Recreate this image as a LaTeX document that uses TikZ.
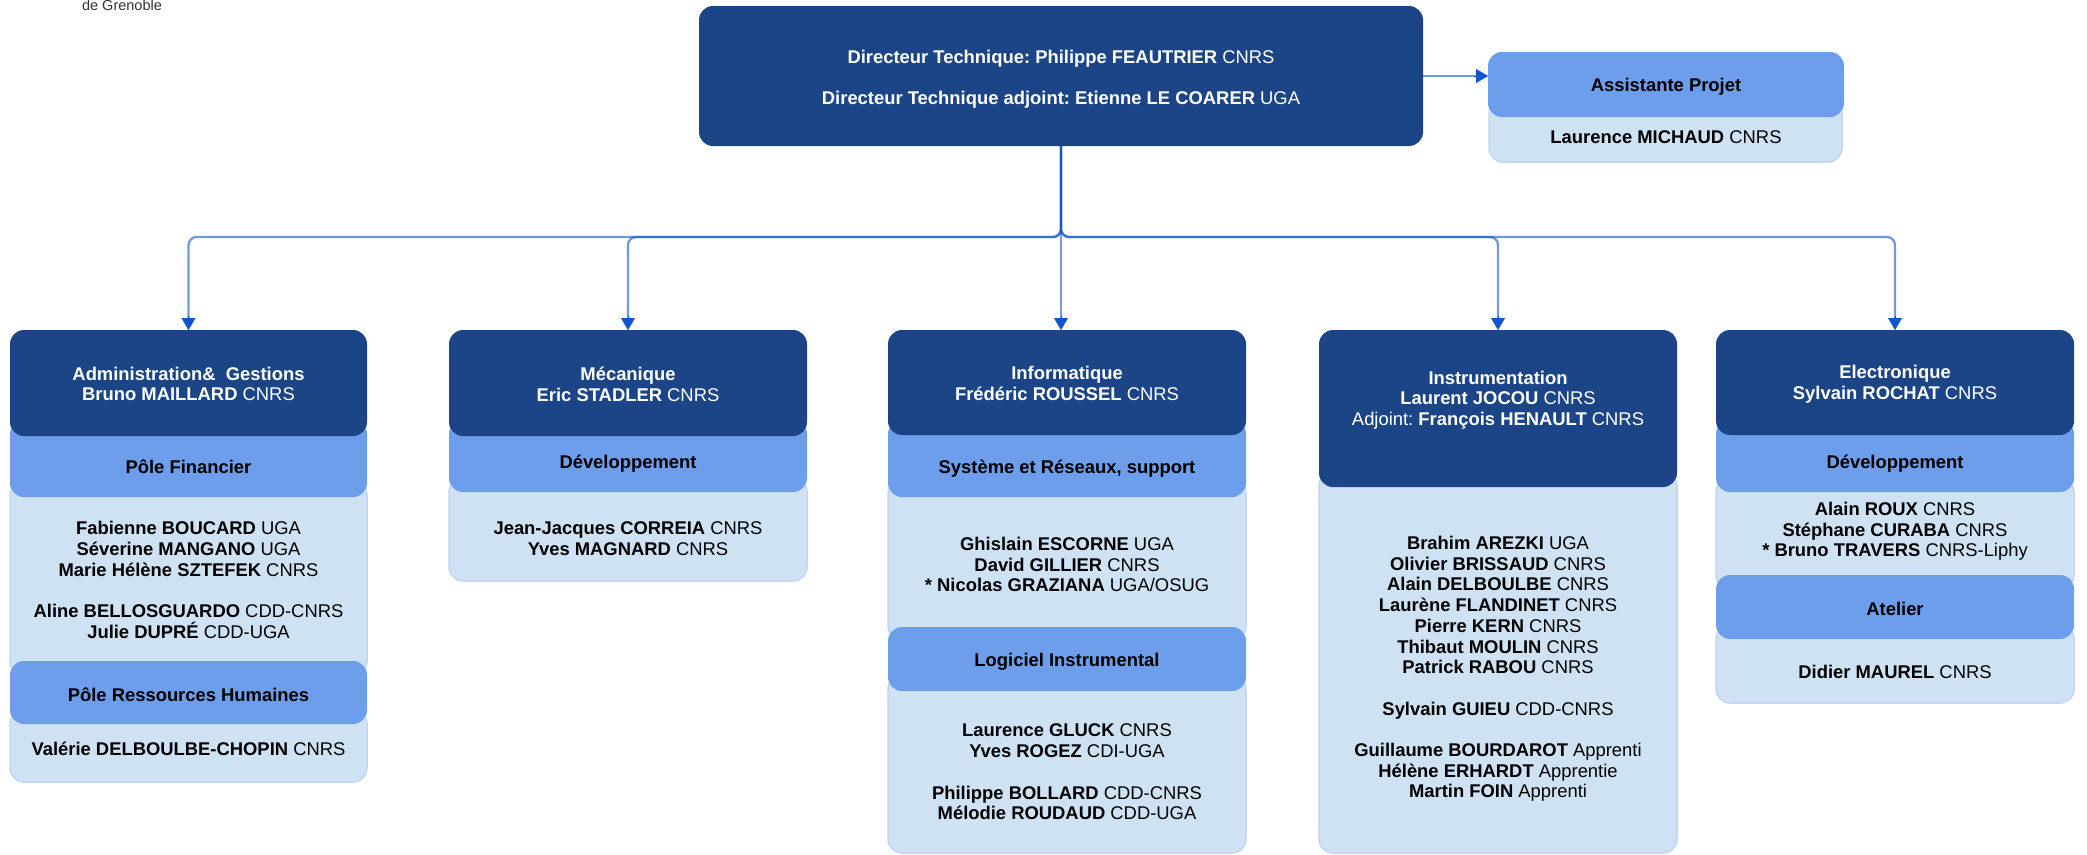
\documentclass[tikz,border=0pt]{standalone}
\usepackage{fontspec}
\setmainfont{Liberation Sans}
\usetikzlibrary{arrows.meta}
\definecolor{cdark}{HTML}{1C4587}
\definecolor{cmid}{HTML}{6D9EEB}
\definecolor{clight}{HTML}{CFE2F3}
\definecolor{cborder}{HTML}{C2D5F5}
\definecolor{clink}{HTML}{1155CC}
\definecolor{cgray}{HTML}{333333}
\frenchspacing
\begin{document}
\begin{tikzpicture}[x=1pt,y=-1pt,
  box/.style={rounded corners=14pt, inner sep=0pt, outer sep=0pt, anchor=north west},
  dark/.style={box, fill=cdark},
  mid/.style={box, fill=cmid},
  light/.style={box, fill=clight, draw=cborder, line width=1.5pt},
  txt/.style={font=\fontsize{18.4}{20.7}\selectfont, align=center, inner sep=0pt},
  wtxt/.style={txt, text=white},
  btxt/.style={txt, text=black},
  conn/.style={draw=clink, draw opacity=0.6, line width=2.3pt, rounded corners=8pt},
  tip/.style={-{Triangle[length=12pt,width=14pt]}, draw=clink, fill=clink, line width=0.2pt}
]
\useasboundingbox (0,0) rectangle (2087,854);

% logo caption fragment
\node[font=\fontsize{14.5}{17}\selectfont, text=cgray, anchor=base, inner sep=0pt] (logo) at (122,10) {de Grenoble};

% director + assistant
\node[dark, minimum width=724, minimum height=140] (dir) at (699,6) {};
\node[light, minimum width=353, minimum height=62] (apb) at (1489,100) {};
\node[mid, minimum width=356, minimum height=65] (aph) at (1488,52) {};

% column 1
\node[light, minimum width=357, minimum height=193] (c1b) at (10,482) {};
\node[light, minimum width=357, minimum height=72] (c1d) at (10,710) {};
\node[mid, minimum width=357, minimum height=77] (c1a) at (10,420) {};
\node[mid, minimum width=357, minimum height=63] (c1c) at (10,661) {};
\node[dark, minimum width=357, minimum height=106] (c1h) at (10,330) {};

% column 2
\node[light, minimum width=358, minimum height=103] (c2b) at (449,478) {};
\node[mid, minimum width=358, minimum height=72] (c2a) at (449,420) {};
\node[dark, minimum width=358, minimum height=106] (c2h) at (449,330) {};

% column 3
\node[light, minimum width=358, minimum height=160] (c3b) at (888,480) {};
\node[light, minimum width=358, minimum height=178] (c3d) at (888,675) {};
\node[mid, minimum width=358, minimum height=77] (c3a) at (888,420) {};
\node[mid, minimum width=358, minimum height=64] (c3c) at (888,627) {};
\node[dark, minimum width=358, minimum height=105] (c3h) at (888,330) {};

% column 4
\node[light, minimum width=358, minimum height=381] (c4b) at (1319,472) {};
\node[dark, minimum width=358, minimum height=157] (c4h) at (1319,330) {};

% column 5
\node[light, minimum width=358, minimum height=111] (c5b) at (1716,478) {};
\node[light, minimum width=358, minimum height=78] (c5d) at (1716,625) {};
\node[mid, minimum width=358, minimum height=72] (c5a) at (1716,420) {};
\node[mid, minimum width=358, minimum height=64] (c5c) at (1716,575) {};
\node[dark, minimum width=358, minimum height=105] (c5h) at (1716,330) {};

% connectors
\coordinate (bus) at (1061,237);
\coordinate (c3in) at (dir.south |- c3h.north);
\coordinate (apin) at (dir.east -| aph.west);
\draw[conn] (dir.south) -- (bus) -| ([yshift=12pt]c1h.north);
\draw[conn] (dir.south) -- (bus) -| ([yshift=12pt]c2h.north);
\draw[conn] (dir.south) -- ([yshift=12pt]c3in);
\draw[conn] (dir.south) -- (bus) -| ([yshift=12pt]c4h.north);
\draw[conn] (dir.south) -- (bus) -| ([yshift=12pt]c5h.north);
\draw[conn] (dir.east) -- ([xshift=-12pt]apin);
\draw[tip] ([yshift=14pt]c1h.north) -- (c1h.north);
\draw[tip] ([yshift=14pt]c2h.north) -- (c2h.north);
\draw[tip] ([yshift=14pt]c3in) -- (c3in);
\draw[tip] ([yshift=14pt]c4h.north) -- (c4h.north);
\draw[tip] ([yshift=14pt]c5h.north) -- (c5h.north);
\draw[tip] ([xshift=-14pt]apin) -- (apin);

% texts
\node[wtxt] (t0a) at (1061,58.5) {\textbf{Directeur Technique: Philippe FEAUTRIER} CNRS};
\node[wtxt] (t0b) at (1061,99.5) {\textbf{Directeur Technique adjoint: Etienne LE COARER} UGA};
\node[btxt] (tapa) at (1666,86.5) {\textbf{Assistante Projet}};
\node[btxt] (tapb) at (1666,137.5) {\textbf{Laurence MICHAUD} CNRS};

\node[wtxt] (t1h) at (188.5,384) {\textbf{Administration\&~ Gestions}\\\textbf{Bruno MAILLARD} CNRS};
\node[btxt] (t1a) at (188.5,466.5) {\textbf{Pôle Financier}};
\node[btxt] (t1b) at (188.5,580) {\textbf{Fabienne BOUCARD} UGA\\\textbf{Séverine MANGANO} UGA\\\textbf{Marie Hélène SZTEFEK} CNRS\\[20.7pt]\textbf{Aline BELLOSGUARDO} CDD-CNRS\\\textbf{Julie DUPRÉ} CDD-UGA};
\node[btxt] (t1c) at (188.5,694.5) {\textbf{Pôle Ressources Humaines}};
\node[btxt] (t1d) at (188.5,748.5) {\textbf{Valérie DELBOULBE-CHOPIN} CNRS};

\node[wtxt] (t2h) at (628,384.5) {\textbf{Mécanique}\\\textbf{Eric STADLER} CNRS};
\node[btxt] (t2a) at (628,463.5) {\textbf{Développement}};
\node[btxt] (t2b) at (628,539) {\textbf{Jean-Jacques CORREIA} CNRS\\\textbf{Yves MAGNARD} CNRS};

\node[wtxt] (t3h) at (1067,383.5) {\textbf{Informatique}\\\textbf{Frédéric ROUSSEL} CNRS};
\node[btxt] (t3a) at (1067,468.5) {\textbf{Système et Réseaux, support}};
\node[btxt] (t3b) at (1067,564.5) {\textbf{Ghislain ESCORNE} UGA\\\textbf{David GILLIER} CNRS\\\textbf{* Nicolas GRAZIANA} UGA/OSUG};
\node[btxt] (t3c) at (1067,662) {\textbf{Logiciel Instrumental}};
\node[btxt] (t3d) at (1067,772) {\textbf{Laurence GLUCK} CNRS\\\textbf{Yves ROGEZ} CDI-UGA\\[20.7pt]\textbf{Philippe BOLLARD} CDD-CNRS\\\textbf{Mélodie ROUDAUD} CDD-UGA};

\node[wtxt] (t4h) at (1498,400) {\textbf{Instrumentation}\\\textbf{Laurent JOCOU} CNRS\\Adjoint: \textbf{François HENAULT} CNRS};
\node[btxt] (t4b) at (1498,669) {\textbf{Brahim AREZKI} UGA\\\textbf{Olivier BRISSAUD} CNRS\\\textbf{Alain DELBOULBE} CNRS\\\textbf{Laurène FLANDINET} CNRS\\\textbf{Pierre KERN} CNRS\\\textbf{Thibaut MOULIN} CNRS\\\textbf{Patrick RABOU} CNRS\\[20.7pt]\textbf{Sylvain GUIEU} CDD-CNRS\\[20.7pt]\textbf{Guillaume BOURDAROT} Apprenti\\\textbf{Hélène ERHARDT} Apprentie\\\textbf{Martin FOIN} Apprenti};

\node[wtxt] (t5h) at (1895,384.5) {\textbf{Electronique}\\\textbf{Sylvain ROCHAT} CNRS};
\node[btxt] (t5a) at (1895,463.5) {\textbf{Développement}};
\node[btxt] (t5b) at (1895,531.5) {\textbf{Alain ROUX} CNRS\\\textbf{Stéphane CURABA} CNRS\\\textbf{* Bruno TRAVERS} CNRS-Liphy};
\node[btxt] (t5c) at (1895,608.5) {\textbf{Atelier}};
\node[btxt] (t5d) at (1895,671.5) {\textbf{Didier MAUREL} CNRS};
\end{tikzpicture}
\end{document}
